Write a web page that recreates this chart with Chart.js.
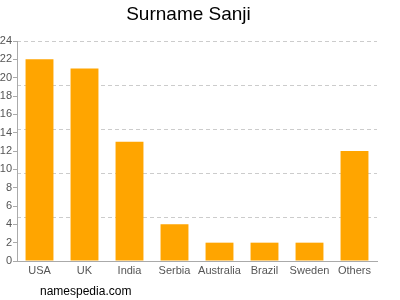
<!DOCTYPE html>
<html>
<head>
<meta charset="utf-8">
<script src="https://cdn.jsdelivr.net/npm/chart.js@4"></script>
<style>
  html, body { margin: 0; padding: 0; background: #fff; }
  #wrap { position: relative; width: 400px; height: 300px; }
  #footer { position: absolute; left: 40px; top: 283px; font: 12px "Liberation Sans", Arial, sans-serif; color: #000; line-height: 16px; }
</style>
</head>
<body>
<div id="wrap">
  <canvas id="c" width="400" height="300"></canvas>
  <div id="footer">namespedia.com</div>
</div>
<script>
const categories = ["USA", "UK", "India", "Serbia", "Australia", "Brazil", "Sweden", "Others"];
const counts = [22, 21, 13, 4, 2, 2, 2, 12];
const yTickStep = 2;
const yMax = 24;
const gridCount = 6;

const FONT = "'Liberation Sans', Arial, sans-serif";

new Chart(document.getElementById('c'), {
  type: 'bar',
  data: {
    labels: categories,
    datasets: [{
      data: counts,
      backgroundColor: '#FFA500',
      borderWidth: 0,
      barPercentage: 0.62,
      categoryPercentage: 1.0
    }]
  },
  options: {
    responsive: false,
    animation: false,
    devicePixelRatio: 1,
    layout: { padding: { left: 0, right: 23, top: 0, bottom: 0 } },
    plugins: {
      legend: { display: false },
      tooltip: { enabled: false },
      title: {
        display: true,
        text: 'Surname Sanji',
        color: '#000',
        font: { family: FONT, size: 19, weight: 'normal' },
        padding: { top: 3.6, bottom: 14.6 }
      }
    },
    scales: {
      x: {
        grid: { drawOnChartArea: false, drawTicks: false },
        border: { display: true, color: '#aaa', width: 1 },
        ticks: { color: '#555', font: { family: FONT, size: 11 }, padding: 3, maxRotation: 0, autoSkip: false },
        afterFit: (s) => { s.height = 39; }
      },
      yGrid: {
        position: 'left',
        min: 0,
        max: yMax,
        ticks: { display: false, count: gridCount },
        grid: { color: '#ccc', drawTicks: false, tickLength: 0 },
        border: { display: false, dash: [4, 3] },
        afterFit: (s) => { s.width = 0; }
      },
      y: {
        position: 'left',
        min: 0,
        max: yMax,
        ticks: { stepSize: yTickStep, color: '#555', font: { family: FONT, size: 11 }, padding: 1 },
        grid: { drawOnChartArea: false, drawTicks: true, tickLength: 4, color: '#aaa' },
        border: { display: true, color: '#aaa', width: 1 },
        afterFit: (s) => { s.width = 17; }
      }
    }
  }
});
</script>
</body>
</html>
